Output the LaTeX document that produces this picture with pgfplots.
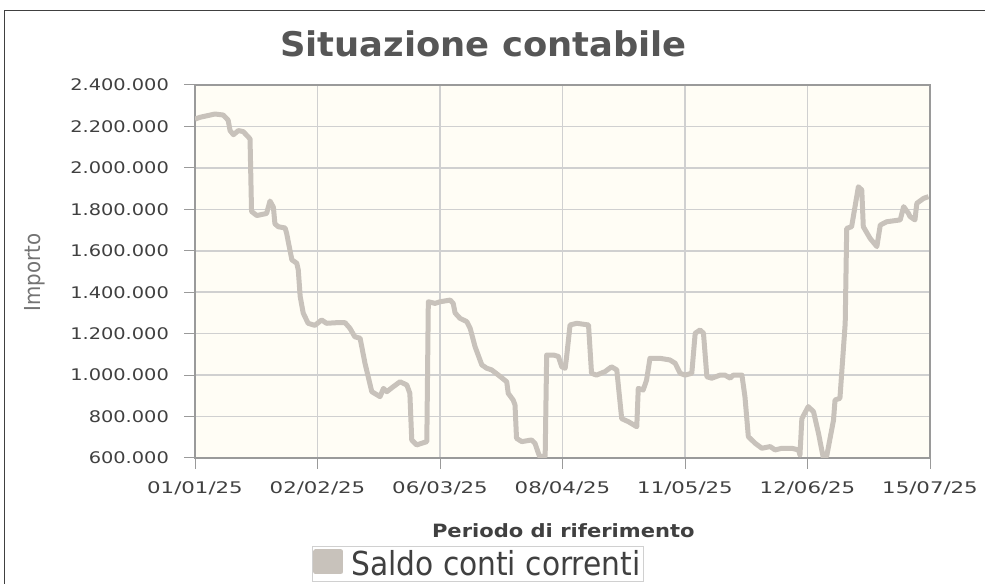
\documentclass[border=0pt]{standalone}
\usepackage{fontspec}
\setmainfont{DejaVu Sans}
\newfontfamily\condfont{DejaVu Sans Condensed}
\usepackage{pgfplots}
\pgfplotsset{compat=1.18}
\definecolor{linec}{HTML}{C8C2BB}
\definecolor{bgc}{HTML}{FFFDF5}
\definecolor{gridc}{HTML}{D0D0D0}
\definecolor{framec}{HTML}{9A9A9A}
\definecolor{txt}{HTML}{404040}
\definecolor{titlec}{HTML}{565656}

\pgfplotstableread{
day value
0 2235000
1.3 2244000
5.3 2260000
7.5 2255000
8.8 2230000
9.3 2180000
10.2 2160000
11.5 2180000
12.8 2175000
14.6 2140000
15.0 1790000
16.4 1770000
19.0 1780000
19.9 1840000
20.8 1810000
21.2 1730000
22.1 1716000
23.9 1710000
24.3 1685000
25.7 1556000
27.0 1540000
27.4 1507000
27.9 1380000
28.7 1300000
30.0 1250000
31.8 1240000
33.6 1266000
34.9 1250000
37.6 1253000
39.8 1253000
41.1 1226000
42.4 1185000
43.8 1178000
45.1 1057000
46.9 920000
49.1 896000
50.0 936000
50.9 920000
52.6 944000
54.4 968000
56.2 952000
57.0 912000
57.5 687000
58.8 663000
61.5 679000
61.9 1354000
63.7 1346000
65.0 1354000
67.7 1362000
68.5 1346000
69.0 1300000
70.3 1274000
72.1 1258000
73.0 1226000
74.3 1137000
76.1 1049000
77.4 1033000
78.7 1025000
80.5 1000000
82.7 968000
83.1 912000
84.4 880000
84.9 856000
85.3 695000
86.7 679000
89.3 687000
90.2 671000
91.1 623000
91.5 606000
92.9 610000
93.3 1097000
95.1 1097000
96.4 1090000
97.3 1040000
98.2 1033000
98.6 1090000
99.5 1242000
101.3 1250000
104.4 1242000
105.2 1009000
106.5 1000000
108.8 1017000
110.5 1040000
111.9 1025000
113.2 790000
115.0 775000
117.2 751000
117.6 936000
118.9 928000
119.8 976000
120.7 1081000
123.4 1081000
126.0 1073000
127.4 1057000
128.7 1009000
130.0 1000000
131.8 1009000
132.7 1202000
134.0 1218000
134.9 1202000
135.8 992000
137.1 985000
139.3 1000000
140.6 1000000
142.0 985000
142.8 1000000
145.1 1000000
145.9 896000
146.8 703000
148.6 671000
150.4 647000
152.6 655000
153.9 639000
155.7 647000
158.3 647000
160.1 639000
160.5 615000
161.0 790000
162.7 848000
164.1 823000
165.4 720000
166.7 600000
167.6 610000
169.4 783000
169.8 880000
171.1 888000
172.5 1250000
172.9 1708000
174.2 1716000
176.0 1909000
176.9 1893000
177.3 1716000
179.1 1660000
180.9 1620000
181.8 1724000
183.5 1740000
187.1 1749000
188.0 1813000
189.3 1780000
189.7 1765000
191.0 1749000
191.5 1829000
193.3 1853000
194.6 1861000
}\saldo

\begin{document}
\begin{tikzpicture}[x=1bp,y=1bp]
\path[use as bounding box] (0,0) rectangle (985,584);
\draw[black!75, line width=1bp] (4.5,0) -- (4.5,573.5) -- (985,573.5);
\node[anchor=base, text=titlec, xscale=1.04, font=\bfseries\fontsize{34bp}{40bp}\selectfont] at (483.5,527.3) {Situazione contabile};
\begin{axis}[
  at={(195bp,126bp)}, anchor=south west,
  scale only axis, width=735bp, height=373bp,
  xmin=0, xmax=195, ymin=600000, ymax=2400000,
  xtick={0,32.5,65,97.5,130,162.5,195},
  xticklabels={01/01/25,02/02/25,06/03/25,08/04/25,11/05/25,12/06/25,15/07/25},
  ytick={600000,800000,...,2400000},
  scaled y ticks=false,
  /pgf/number format/fixed,
  /pgf/number format/1000 sep={.},
  /pgf/number format/assume math mode=true,
  grid=major, major grid style={gridc, line width=1.5bp},
  axis background/.style={fill=bgc},
  axis line style={framec, line width=2.5bp},
  tick pos=left,
  tick align=outside,
  major tick length=11bp,
  tick style={framec, line width=1bp},
  ticklabel style={font=\fontsize{16bp}{19bp}\selectfont, text=txt},
  xticklabel style={xscale=1.33, yshift=-9bp},
  yticklabel style={xscale=1.21, xshift=-9bp},
  xlabel={Periodo di riferimento},
  xlabel style={at={(axis description cs:0.5011,-0.2118)}, anchor=base,
    font=\bfseries\fontsize{18.3bp}{22bp}\selectfont, text=txt, xscale=1.15},
  ylabel={Importo},
  ylabel style={at={(axis description cs:-0.2177,0.4979)}, anchor=center,
    font=\condfont\fontsize{22bp}{26bp}\selectfont, text=black!55},
  legend style={at={(axis description cs:0.159,-0.236)}, anchor=north west,
    draw=gridc, fill=white, line width=1bp,
    font=\condfont\fontsize{33bp}{38bp}\selectfont, text=txt,
    inner xsep=1bp, inner ysep=2bp, nodes={inner sep=2bp}},
  legend image code/.code={\fill[linec] (0bp,-8bp) rectangle (25bp,12bp); \path (31bp,0bp);},
]
\addplot[linec, line width=5bp, line join=round] table[x=day, y=value] {\saldo};
\addlegendentry{Saldo conti correnti\hspace{12bp}}
\end{axis}
\end{tikzpicture}
\end{document}
